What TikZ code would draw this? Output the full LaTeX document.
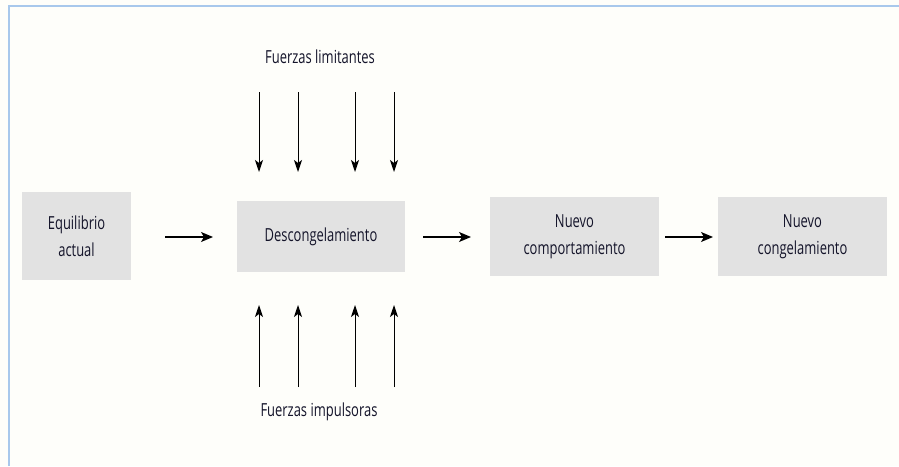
\documentclass[tikz,border=0pt]{standalone}
\usepackage{fontspec}
\setmainfont{Open Sans}[FakeStretch=0.72]
\usetikzlibrary{arrows.meta}
\definecolor{bgc}{HTML}{FEFEFA}
\definecolor{boxc}{HTML}{E2E2E2}
\definecolor{framec}{HTML}{A8C8EC}
\definecolor{txtc}{HTML}{14142A}
\begin{document}
\begin{tikzpicture}[x=1pt,y=-1pt,
  stagebox/.style={fill=boxc,draw=none,inner sep=0pt,align=center,text=txtc,
    font=\fontsize{18}{27}\selectfont},
  lbl/.style={text=txtc,font=\fontsize{18}{27}\selectfont,inner sep=0pt},
  harrow/.style={line width=1.3pt,-{Stealth[length=12pt,width=10pt,inset=3pt]}},
  varrow/.style={line width=1pt,-{Stealth[length=12pt,width=8pt,inset=3pt]}}]
\useasboundingbox (0,0) rectangle (899,466);
\fill[bgc] (0,0) rectangle (899,466);
\draw[framec,line width=1.5pt] (9,466) -- (9,6) -- (899,6);
% boxes
\node[stagebox,minimum width=109pt,minimum height=88pt] (eq) at (76.5,236) {Equilibrio\\actual};
\node[stagebox,minimum width=168pt,minimum height=71pt] (des) at (321,236.5) {Descongelamiento};
\node[stagebox,minimum width=169pt,minimum height=79pt] (nc) at (574.5,236.5) {Nuevo\\comportamiento};
\node[stagebox,minimum width=169pt,minimum height=79pt] (ng) at (802.5,236.5) {Nuevo\\congelamiento};
% horizontal arrows
\coordinate (a1s) at (165,237); \coordinate (a1e) at (213,237);
\coordinate (a2s) at (423,237); \coordinate (a2e) at (471,237);
\coordinate (a3s) at (665,237); \coordinate (a3e) at (713,237);
\draw[harrow] (a1s) -- (a1e);
\draw[harrow] (a2s) -- (a2e);
\draw[harrow] (a3s) -- (a3e);
% labels
\node[lbl] (lim) at (320,57) {Fuerzas limitantes};
\node[lbl] (imp) at (319,412) {Fuerzas impulsoras};
% vertical arrows
\foreach \x [count=\i] in {259,298,355,394}{
  \coordinate (t\i s) at (\x,92); \coordinate (t\i e) at (\x,172);
  \draw[varrow] (t\i s) -- (t\i e);
  \coordinate (b\i s) at (\x,387); \coordinate (b\i e) at (\x,305);
  \draw[varrow] (b\i s) -- (b\i e);
}
\end{tikzpicture}
\end{document}
